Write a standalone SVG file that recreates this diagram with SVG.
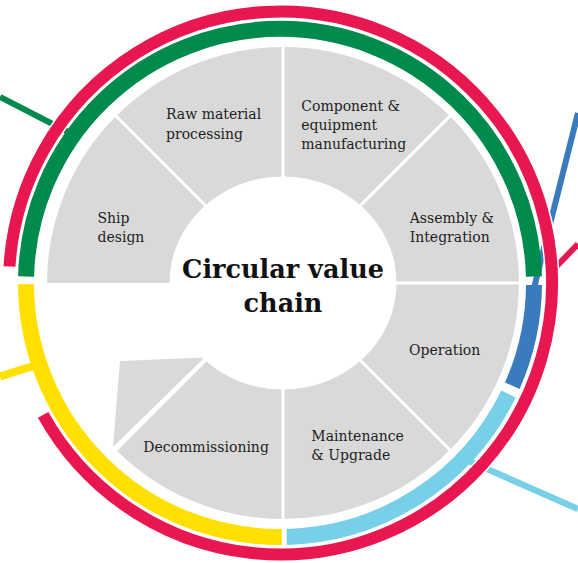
<svg xmlns="http://www.w3.org/2000/svg" width="578" height="563" viewBox="0 0 578 563">
<style>
.sector{fill:#d9d9d9}
.sep{stroke:#ffffff;stroke-width:3;fill:none}
.lbl{font-family:"DejaVu Serif","Liberation Serif",serif;font-size:14px;fill:#1e1e1e}
.title{font-family:"DejaVu Serif","Liberation Serif",serif;font-size:25.5px;font-weight:bold;fill:#111111;text-anchor:middle}
.ring{fill:none;stroke-linecap:butt}
.conn{fill:none;stroke-linecap:butt}
</style>
<rect width="578" height="563" fill="#ffffff"/>
<g id="connectors">
<line class="conn" x1="0" y1="97" x2="72" y2="134" stroke="#008a4b" stroke-width="6"/>
<line class="conn" x1="0" y1="376.5" x2="38" y2="364.5" stroke="#ffe000" stroke-width="8"/>
<line class="conn" x1="533" y1="292" x2="578" y2="113" stroke="#3a7bbd" stroke-width="6"/>
<line class="conn" x1="553" y1="270" x2="578" y2="244" stroke="#e8174f" stroke-width="6"/>
<line class="conn" x1="466" y1="459.7" x2="578" y2="509" stroke="#78cfe8" stroke-width="6.5"/>
</g>
<g id="rings">
<path class="ring" d="M 9.5 266.5 A 271.5 271.5 0 1 1 43.15 414.84" stroke="#ffffff" stroke-width="15"/>
<path id="ring-red" class="ring" d="M 9.5 266.5 A 271.5 271.5 0 1 1 43.15 414.84" stroke="#e8174f" stroke-width="12"/>
<path id="ring-green" class="ring" d="M 26.08 276.48 A 254 254 0 0 1 533.92 276.48" stroke="#008a4b" stroke-width="16"/>
<path id="ring-yellow" class="ring" d="M 26 284.3 A 254 254 0 0 0 281.8 537" stroke="#ffe000" stroke-width="16"/>
<path id="ring-lightblue" class="ring" d="M 286.65 536.9 A 254 254 0 0 0 508.5 393.9" stroke="#78cfe8" stroke-width="16"/>
<path id="ring-blue" class="ring" d="M 512.3 385.7 A 254 254 0 0 0 534 285" stroke="#3a7bbd" stroke-width="16"/>
</g>
<g id="wheel">
<path class="sector" d="M 120 361 L 204.5 357.5 L 113 447 Z"/>
<g id="ship-design">
<path class="sector" d="M 283 283 L 47 283 A 236 236 0 0 1 116.12 116.12 Z"/>
</g>
<g id="raw-material">
<path class="sector" d="M 283 283 L 116.12 116.12 A 236 236 0 0 1 283 47 Z"/>
</g>
<g id="component">
<path class="sector" d="M 283 283 L 283 47 A 236 236 0 0 1 449.88 116.12 Z"/>
</g>
<g id="assembly">
<path class="sector" d="M 283 283 L 449.88 116.12 A 236 236 0 0 1 519 283 Z"/>
</g>
<g id="operation">
<path class="sector" d="M 283 283 L 519 283 A 236 236 0 0 1 449.88 449.88 Z"/>
</g>
<g id="maintenance">
<path class="sector" d="M 283 283 L 449.88 449.88 A 236 236 0 0 1 283 519 Z"/>
</g>
<g id="decommissioning">
<path class="sector" d="M 283 283 L 283 519 A 236 236 0 0 1 116.12 449.88 Z"/>
</g>
<g id="separators">
<line class="sep" x1="283" y1="283" x2="520" y2="283"/>
<line class="sep" x1="283" y1="283" x2="451" y2="451"/>
<line class="sep" x1="283" y1="283" x2="283" y2="520"/>
<line class="sep" x1="283" y1="283" x2="115" y2="451"/>
<line class="sep" x1="283" y1="283" x2="115" y2="115"/>
<line class="sep" x1="283" y1="283" x2="283" y2="46"/>
<line class="sep" x1="283" y1="283" x2="451" y2="115"/>
</g>
<ellipse cx="283" cy="283" rx="113.5" ry="106.5" fill="#ffffff"/>
</g>
<g id="labels">
<text class="lbl" x="97.5" y="223.3">Ship</text>
<text class="lbl" x="97.5" y="242.3">design</text>
<text class="lbl" x="166" y="119.3">Raw material</text>
<text class="lbl" x="166" y="138.5">processing</text>
<text class="lbl" x="301.3" y="111">Component &amp;</text>
<text class="lbl" x="301.3" y="130">equipment</text>
<text class="lbl" x="301.3" y="149">manufacturing</text>
<text class="lbl" x="409.7" y="223.3">Assembly &amp;</text>
<text class="lbl" x="409.7" y="242.3">Integration</text>
<text class="lbl" x="409" y="354.7">Operation</text>
<text class="lbl" x="311.3" y="440.7">Maintenance</text>
<text class="lbl" x="311.3" y="459.7">&amp; Upgrade</text>
<text class="lbl" x="143.3" y="452">Decommissioning</text>
</g>
<g id="title">
<text class="title" x="283" y="278">Circular value</text>
<text class="title" x="283" y="311.5">chain</text>
</g>
</svg>
